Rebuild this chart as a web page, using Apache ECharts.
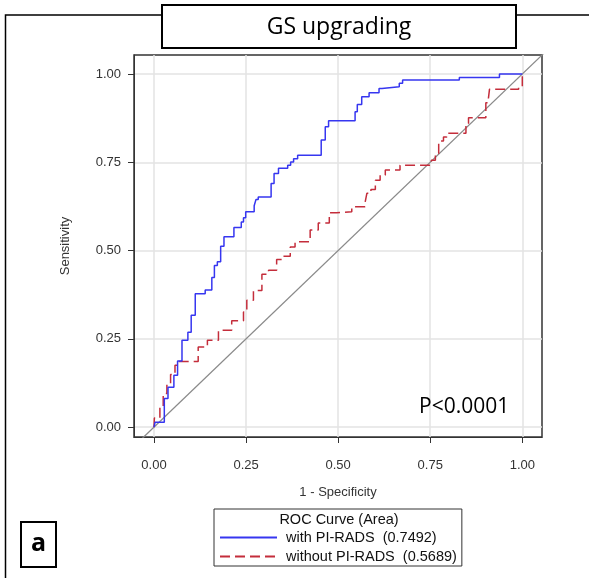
<!DOCTYPE html>
<html><head><meta charset="utf-8">
<script src="https://cdn.jsdelivr.net/npm/echarts@6/dist/echarts.min.js"></script>
<style>html,body{margin:0;padding:0;background:#fff}#c{width:589px;height:578px}</style>
</head><body><div id="c"></div><script>
// ---- data ----
const chartTitle = 'GS upgrading';
const xName = '1 - Specificity';
const yName = 'Sensitivity';
const tickValues = [0, 0.25, 0.5, 0.75, 1];
const legendTitle = 'ROC Curve (Area)';
const seriesNames = ['with PI-RADS  (0.7492)', 'without PI-RADS  (0.5689)'];
const pText = 'P<0.0001';
const panelLabel = 'a';

const withFpr = [0, 0.003, 0.028, 0.038, 0.054, 0.064, 0.076, 0.092, 0.101, 0.112,
  0.139, 0.157, 0.164, 0.172, 0.181, 0.190, 0.217, 0.237, 0.243, 0.249,
  0.272, 0.277, 0.283, 0.318, 0.326, 0.338, 0.363, 0.371, 0.379, 0.390,
  0.454, 0.465, 0.474, 0.546, 0.552, 0.564, 0.584, 0.611, 0.619, 0.666,
  0.675, 0.829, 0.938, 1.0];
const withTpr = [0, 0.014, 0.081, 0.113, 0.147, 0.187, 0.246, 0.269, 0.317, 0.378,
  0.388, 0.424, 0.458, 0.468, 0.512, 0.539, 0.565, 0.581, 0.593, 0.610,
  0.627, 0.645, 0.652, 0.690, 0.718, 0.733, 0.742, 0.751, 0.760, 0.770,
  0.813, 0.851, 0.868, 0.893, 0.914, 0.936, 0.947, 0.959, 0.964, 0.974,
  0.983, 0.990, 1.0, 1.0];
const withoutFpr = [0, 0.001, 0.016, 0.025, 0.035, 0.045, 0.057, 0.066, 0.120, 0.145,
  0.175, 0.211, 0.243, 0.252, 0.270, 0.293, 0.311, 0.333, 0.351, 0.370,
  0.383, 0.424, 0.446, 0.476, 0.496, 0.537, 0.573, 0.578, 0.589, 0.601,
  0.614, 0.628, 0.668, 0.753, 0.764, 0.773, 0.786, 0.795, 0.847, 0.854,
  0.901, 0.908, 0.911, 0.990, 1.0];
const withoutTpr = [0, 0.026, 0.059, 0.095, 0.121, 0.149, 0.175, 0.186, 0.227, 0.246,
  0.274, 0.301, 0.326, 0.359, 0.387, 0.433, 0.444, 0.475, 0.484, 0.510,
  0.525, 0.558, 0.578, 0.607, 0.610, 0.624, 0.636, 0.662, 0.673, 0.699,
  0.714, 0.728, 0.742, 0.756, 0.775, 0.810, 0.822, 0.832, 0.860, 0.876,
  0.919, 0.931, 0.957, 0.964, 1.0];
const diagonal = [[-1, -1], [2, 2]];

// ---- chart ----
const zip = (a, b) => a.map((v, i) => [v, b[i]]);
const chart = echarts.init(document.getElementById('c'), null, {renderer: 'canvas'});
const axisFont = 'Liberation Sans, Arial, sans-serif';
const calib = '"Open Sans", "Noto Sans", sans-serif';

function axisCommon(name, gap, labelMargin) {
  return {
    type: 'value',
    name: name, nameLocation: 'middle', nameGap: gap,
    nameTextStyle: {fontFamily: axisFont, fontSize: 13, color: '#333'},
    axisLine: {show: true, onZero: false, lineStyle: {color: '#333', width: 1}},
    axisTick: {show: true, customValues: tickValues, length: 6, lineStyle: {color: '#333', width: 1}},
    axisLabel: {customValues: tickValues, margin: labelMargin, fontFamily: axisFont, fontSize: 13, color: '#333',
      formatter: v => v.toFixed(2)},
    splitLine: {show: true, lineStyle: {color: '#e3e3e3', width: 1.5}}
  };
}

const option = {
  animation: false,
  backgroundColor: '#fff',
  grid: {left: 134, top: 55, width: 408, height: 382, show: true, borderColor: '#333', borderWidth: 1.5,
    containLabel: false},
  xAxis: Object.assign(axisCommon(xName, 49, 22), {min: -0.0543, max: 1.0535}),
  yAxis: Object.assign(axisCommon(yName, 62, 13), {min: -0.028, max: 1.0539}),
  legend: {
    orient: 'vertical', left: 214, top: 509, padding: [21, 5, 2, 5], itemGap: 4,
    itemWidth: 57, itemHeight: 14, borderColor: '#333', borderWidth: 1, selectedMode: false,
    itemStyle: {opacity: 0, borderWidth: 0},
    textStyle: {fontFamily: axisFont, fontSize: 14.5, color: '#111', padding: [0, 0, 0, 4]},
    data: seriesNames
  },
  series: [
    {type: 'line', name: 'ref', data: diagonal, symbol: 'none', silent: true, clip: true,
      lineStyle: {color: '#8a8a8a', width: 1.3}, z: 1},
    {type: 'line', name: seriesNames[0], data: zip(withFpr, withTpr), step: 'end', symbol: 'none',
      itemStyle: {color: '#3636f0'}, lineStyle: {color: '#3636f0', width: 1.5}, z: 3},
    {type: 'line', name: seriesNames[1], data: zip(withoutFpr, withoutTpr), step: 'end', symbol: 'none',
      itemStyle: {color: '#c42d3b'}, lineStyle: {color: '#c42d3b', width: 1.5, type: [10, 5]}, z: 2}
  ],
  graphic: [
    {type: 'polyline', shape: {points: [[5.5, 578], [5.5, 15], [589, 15]]}, style: {stroke: '#000', lineWidth: 1.5, fill: null}, z: 1},
    {type: 'rect', shape: {x: 162, y: 5, width: 354, height: 43}, style: {fill: '#fff', stroke: '#000', lineWidth: 2}, z: 10},
    {type: 'text', x: 339, y: 27, style: {text: chartTitle, fontFamily: calib, fontSize: 23, fill: '#000', align: 'center', verticalAlign: 'middle'}, z: 11},
    {type: 'rect', shape: {x: 21, y: 522, width: 35, height: 45}, style: {fill: '#fff', stroke: '#000', lineWidth: 2}, z: 10},
    {type: 'text', x: 38.5, y: 544, style: {text: panelLabel, fontFamily: calib, fontWeight: 'bold', fontSize: 25, fill: '#000', align: 'center', verticalAlign: 'middle'}, z: 11},
    {type: 'text', x: 339, y: 520, style: {text: legendTitle, fontFamily: axisFont, fontSize: 14.5, fill: '#111', align: 'center', verticalAlign: 'middle'}, z: 11},
    {type: 'text', x: 419, y: 407, style: {text: pText, fontFamily: calib, fontSize: 21, fill: '#000', align: 'left', verticalAlign: 'middle'}, z: 11}
  ]
};
chart.setOption(option);
</script></body></html>
